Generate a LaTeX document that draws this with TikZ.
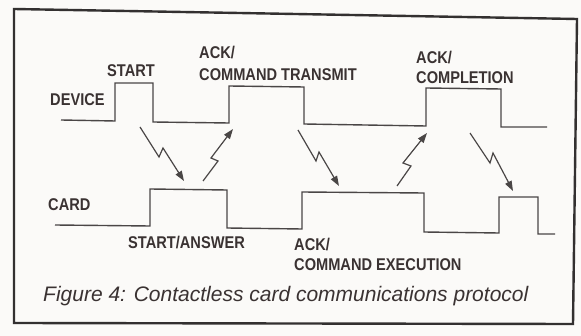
\documentclass[tikz,border=0pt]{standalone}
\usepackage{fontspec}
\setmainfont{Liberation Sans}
\newfontfamily\lblfont[FakeStretch=0.86]{Liberation Sans}
\newfontfamily\capfont{Liberation Sans}
\usetikzlibrary{arrows.meta}
\definecolor{wavec}{HTML}{4A4646}
\definecolor{txtc}{HTML}{3A3232}
\definecolor{framec}{HTML}{333030}
\definecolor{paperc}{HTML}{FBFAF8}
\begin{document}
\begin{tikzpicture}[x=1pt,y=-1pt,
  wave/.style={line width=1.4pt, draw=wavec, line join=miter},
  bolt/.style={line width=1.2pt, draw=wavec, line join=miter, -{Triangle[length=10pt,width=7pt]}},
  lbl/.style={font=\lblfont\bfseries\fontsize{17}{17}\selectfont, text=txtc, anchor=base west, inner sep=0pt},
  caption/.style={font=\capfont\itshape\fontsize{21}{21}\selectfont, text=txtc, anchor=base west, inner sep=0pt}]
\useasboundingbox (0,0) rectangle (581,336);
\fill[paperc] (0,0) rectangle (581,336);
% frame
\draw[framec, line width=2.4pt, line join=miter] (14,9) -- (577,19) -- (573,324) -- (14,323) -- cycle;
% device waveform
\draw[wave] (61,120) -- (115,121) -- (115,83) -- (153,83) -- (153,122) -- (229,123) -- (229,86) -- (304,87) -- (304,124) -- (426,126) -- (426,88) -- (501,89) -- (501,127) -- (547,127);
% card waveform
\draw[wave] (55,225) -- (150,226) -- (150,189) -- (227,190) -- (227,228) -- (302,229) -- (302,192) -- (424,193) -- (424,232) -- (499,233) -- (499,197) -- (538,197) -- (538,234) -- (555,234);
% bolt arrows
\coordinate (b1s) at (140,127); \coordinate (b1m) at (159,157); \coordinate (b1n) at (163,148); \coordinate (b1e) at (184,181);
\coordinate (b2s) at (203,181); \coordinate (b2m) at (218,161); \coordinate (b2n) at (211,158); \coordinate (b2e) at (233,129);
\coordinate (b3s) at (298,130); \coordinate (b3m) at (316,161); \coordinate (b3n) at (319,152); \coordinate (b3e) at (339,186);
\coordinate (b4s) at (397,186); \coordinate (b4m) at (411,166); \coordinate (b4n) at (403,163); \coordinate (b4e) at (427,133);
\coordinate (b5s) at (470,133); \coordinate (b5m) at (490,163); \coordinate (b5n) at (493,153); \coordinate (b5e) at (513,191);
\draw[bolt] (b1s) -- (b1m) -- (b1n) -- (b1e);
\draw[bolt] (b2s) -- (b2m) -- (b2n) -- (b2e);
\draw[bolt] (b3s) -- (b3m) -- (b3n) -- (b3e);
\draw[bolt] (b4s) -- (b4m) -- (b4n) -- (b4e);
\draw[bolt] (b5s) -- (b5m) -- (b5n) -- (b5e);
% labels
\node[lbl] (start) at (107,77) {START};
\node[lbl] (device) at (50,106) {DEVICE};
\node[lbl] (ack1) at (199,59) {ACK/};
\node[lbl] (cmdtx) at (199,81) {COMMAND TRANSMIT};
\node[lbl] (ack2) at (416,64) {ACK/};
\node[lbl] (compl) at (416,84) {COMPLETION};
\node[lbl] (card) at (48,211) {CARD};
\node[lbl] (startans) at (128,249) {START/ANSWER};
\node[lbl] (ack3) at (294,251) {ACK/};
\node[lbl] (cmdex) at (294,271) {COMMAND EXECUTION};
\node[caption] (cap) at (43,302) {Figure 4: Contactless card communications protocol};
\end{tikzpicture}
\end{document}
